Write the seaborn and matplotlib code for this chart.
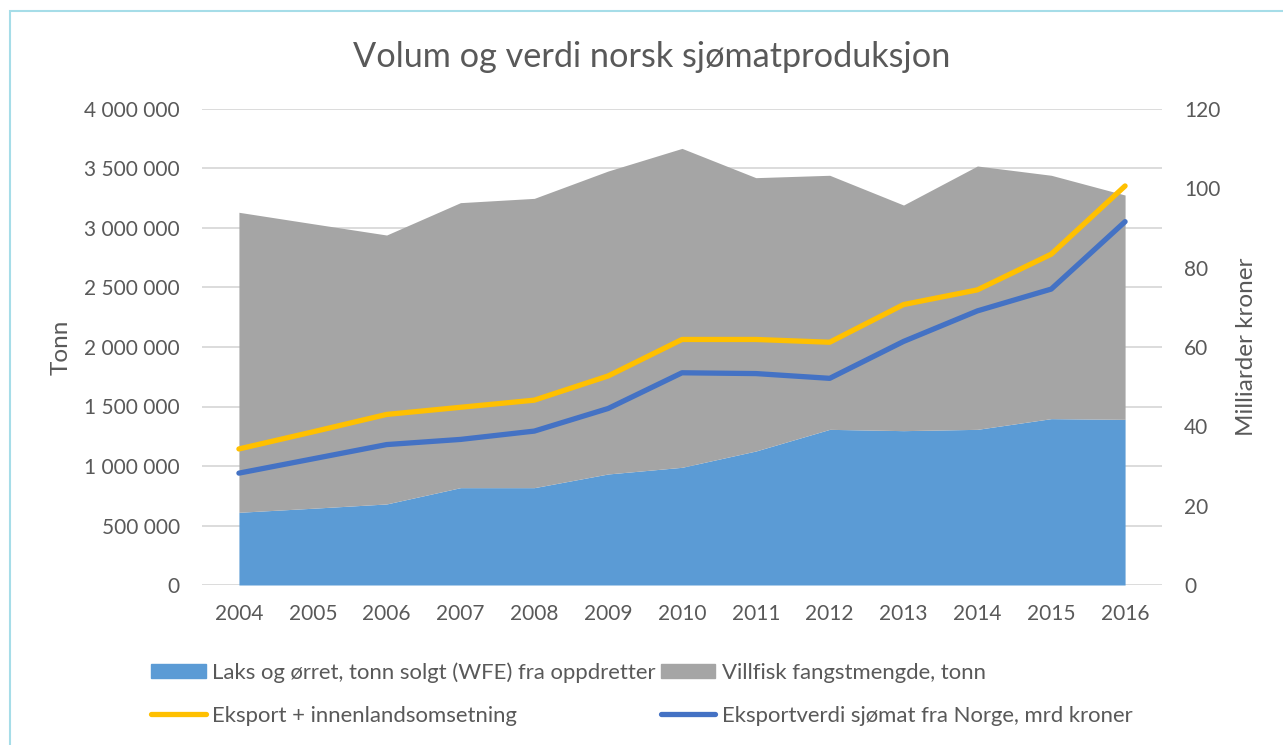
import numpy as np
import pandas as pd
import matplotlib.pyplot as plt
import seaborn as sns
from matplotlib.patches import Patch, Rectangle
from matplotlib.lines import Line2D
from matplotlib.ticker import FuncFormatter

# Data
years = [2004, 2005, 2006, 2007, 2008, 2009, 2010, 2011, 2012, 2013, 2014, 2015, 2016]
laks = [611000, 645000, 681000, 818000, 818000, 933000, 989000, 1126000, 1308000, 1297000, 1308000, 1398000, 1392000]
total = [3132000, 3036000, 2941000, 3213000, 3249000, 3479000, 3669000, 3423000, 3443000, 3193000, 3521000, 3443000, 3277000]
villfisk = [t - l for t, l in zip(total, laks)]
eksport_innenland = [34.3, 38.6, 43.0, 44.8, 46.6, 52.7, 61.9, 61.9, 61.2, 70.7, 74.4, 83.4, 100.6]
eksportverdi = [28.2, 31.8, 35.4, 36.7, 38.8, 44.5, 53.5, 53.3, 52.1, 61.4, 69.1, 74.6, 91.6]

df = pd.DataFrame({
    'year': years,
    'laks': laks,
    'villfisk': villfisk,
    'eksport': eksport_innenland,
    'eksportverdi': eksportverdi,
})

sns.set_theme(style="white")
plt.rcParams['font.family'] = ['Lato', 'DejaVu Sans']

text_col = '#595959'
c_laks = '#5B9BD5'
c_vill = '#A5A5A5'
c_yellow = '#FFC000'
c_blue = '#4472C4'

fig = plt.figure(figsize=(12.83, 7.45), dpi=100)
ax = fig.add_axes([202 / 1283, 1 - 585 / 745, 960 / 1283, 476 / 745])

# stacked areas (tonn)
ax.stackplot(df['year'], df['laks'], df['villfisk'], colors=[c_laks, c_vill], linewidth=0)
ax.set_xlim(2003.5, 2016.5)
ax.set_ylim(0, 4000000)
ax.set_yticks(np.arange(0, 4000001, 500000))
ax.yaxis.set_major_formatter(FuncFormatter(lambda v, p: f"{v:,.0f}".replace(",", " ")))
ax.set_xticks(years)
ax.grid(axis='y', color='#D9D9D9', linewidth=1.3)
ax.grid(axis='x', visible=False)
ax.set_axisbelow(True)
for s in ax.spines.values():
    s.set_visible(False)
ax.tick_params(axis='both', length=0, labelsize=15, colors=text_col)
ax.tick_params(axis='y', pad=16)
ax.tick_params(axis='x', pad=14)
ax.set_ylabel('Tonn', fontsize=17.5, color=text_col, labelpad=9)
ax.set_xlabel('')

# lines on secondary axis (mrd kroner)
ax2 = ax.twinx()
sns.lineplot(data=df, x='year', y='eksport', ax=ax2, color=c_yellow, linewidth=3.8,
             solid_capstyle='round', solid_joinstyle='round')
sns.lineplot(data=df, x='year', y='eksportverdi', ax=ax2, color=c_blue, linewidth=3.8,
             solid_capstyle='round', solid_joinstyle='round')
ax2.set_ylim(0, 120)
ax2.set_yticks(np.arange(0, 121, 20))
ax2.set_xlim(2003.5, 2016.5)
ax2.grid(False)
for s in ax2.spines.values():
    s.set_visible(False)
ax2.tick_params(axis='y', length=0, labelsize=15, colors=text_col, pad=16)
ax2.set_ylabel('Milliarder kroner', fontsize=17.5, color=text_col, labelpad=11)
ax2.set_xlabel('')

fig.text(652 / 1283, 1 - 57 / 745, 'Volum og verdi norsk sjømatproduksjon',
         ha='center', va='center', fontsize=24.7, color=text_col)

handles = [
    Patch(color=c_laks, label='Laks og ørret, tonn solgt (WFE) fra oppdretter'),
    Line2D([], [], color=c_yellow, linewidth=3.8, solid_capstyle='round', label='Eksport + innenlandsomsetning'),
    Patch(color=c_vill, label='Villfisk fangstmengde, tonn'),
    Line2D([], [], color=c_blue, linewidth=3.8, solid_capstyle='round', label='Eksportverdi sjømat fra Norge, mrd kroner'),
]
leg = fig.legend(handles=handles, loc='center', bbox_to_anchor=(642 / 1283, 1 - 694 / 745),
                 ncol=2, frameon=False, fontsize=15.9, handlelength=2.45, handleheight=0.65,
                 handletextpad=0.3, columnspacing=0.25, labelspacing=1.05)
for t in leg.get_texts():
    t.set_color(text_col)

# light blue chart border
fig.patches.append(Rectangle((9.5 / 1283, -0.05), 1.1, 1 - 10.5 / 745 + 0.05,
                             transform=fig.transFigure, fill=False,
                             edgecolor='#A6DDE8', linewidth=1.5, clip_on=False))

fig.savefig('out.png', dpi=100)
